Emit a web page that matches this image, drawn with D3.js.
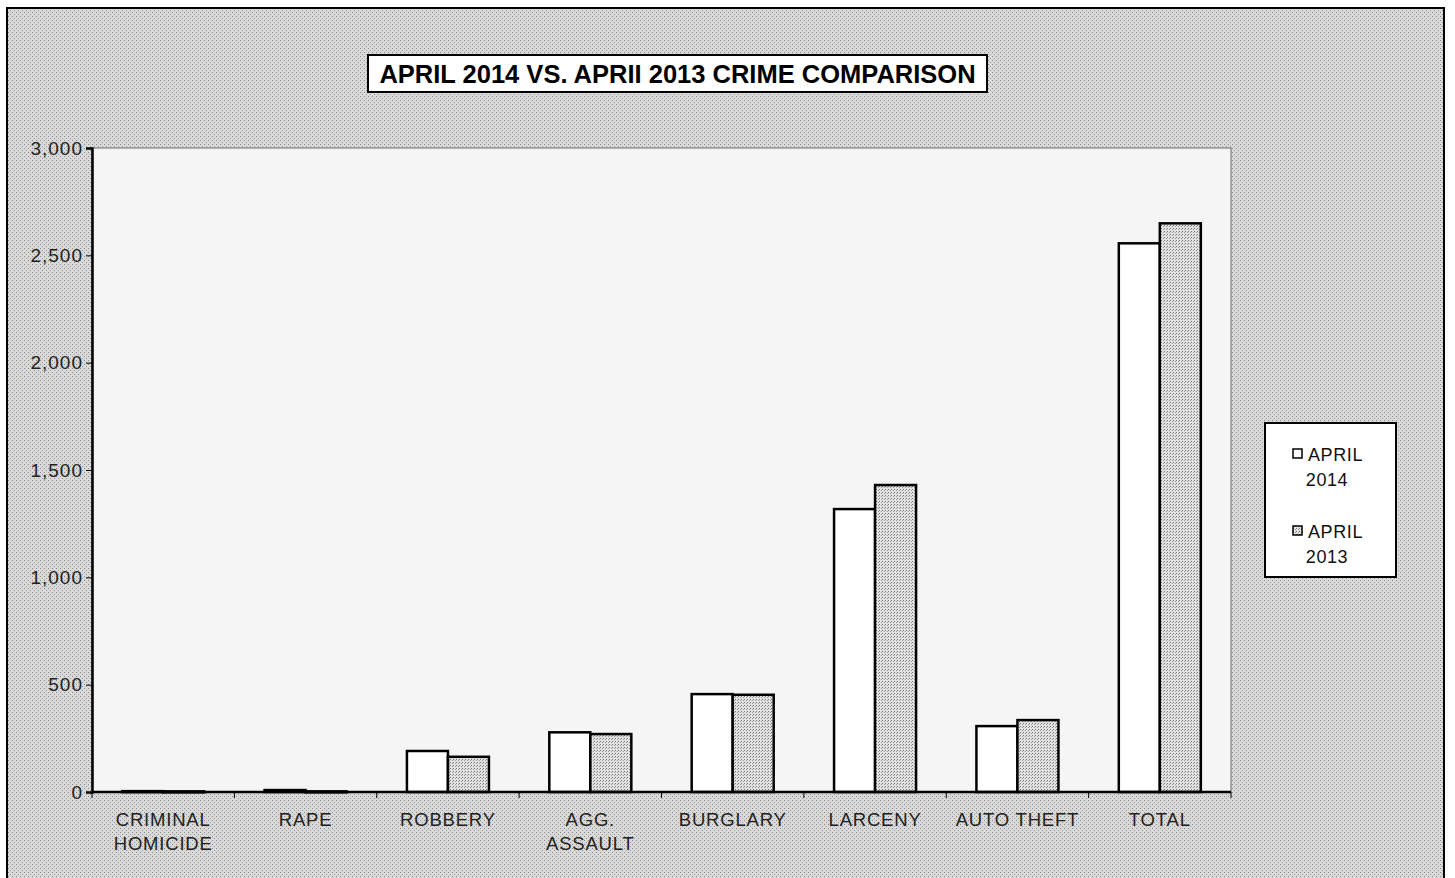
<!DOCTYPE html>
<html>
<head>
<meta charset="utf-8">
<script src="https://cdn.jsdelivr.net/npm/d3@7"></script>
<style>
  html, body { margin: 0; padding: 0; background: #ffffff; }
  svg { display: block; }
  text { font-family: Arial, "Liberation Sans", sans-serif; }
</style>
</head>
<body>
<svg id="chart" width="1455" height="878"></svg>
<script>
const categories = [["CRIMINAL", "HOMICIDE"], ["RAPE"], ["ROBBERY"], ["AGG.", "ASSAULT"], ["BURGLARY"], ["LARCENY"], ["AUTO THEFT"], ["TOTAL"]];
const seriesNames = [["APRIL", "2014"], ["APRIL", "2013"]];
const april2014 = [4, 9, 191, 278, 456, 1318, 307, 2556];
const april2013 = [3, 3, 164, 270, 453, 1430, 335, 2649];
const yTicks = [0, 500, 1000, 1500, 2000, 2500, 3000];
const titleText = "APRIL 2014 VS. APRII 2013 CRIME COMPARISON";

const svg = d3.select("#chart");

// textured patterns
const defs = svg.append("defs");
const bgPat = defs.append("pattern").attr("id", "bgpat").attr("width", 4).attr("height", 4).attr("patternUnits", "userSpaceOnUse");
bgPat.append("rect").attr("width", 4).attr("height", 4).attr("fill", "#d9d9d9");
bgPat.append("rect").attr("x", 0).attr("y", 0).attr("width", 1).attr("height", 1).attr("fill", "#8a8a8a");
bgPat.append("rect").attr("x", 2).attr("y", 2).attr("width", 1).attr("height", 1).attr("fill", "#9a9a9a");
const barPat = defs.append("pattern").attr("id", "barpat").attr("width", 3).attr("height", 3).attr("patternUnits", "userSpaceOnUse");
barPat.append("rect").attr("width", 3).attr("height", 3).attr("fill", "#e2e2e2");
barPat.append("rect").attr("x", 0).attr("y", 0).attr("width", 1).attr("height", 1).attr("fill", "#777");
barPat.append("rect").attr("x", 2).attr("y", 1).attr("width", 1).attr("height", 1).attr("fill", "#999");

// outer chart area
svg.append("rect").attr("x", 7).attr("y", 8).attr("width", 1437).attr("height", 880)
  .attr("fill", "url(#bgpat)").attr("stroke", "#000").attr("stroke-width", 2);

const plot = { left: 92, top: 148, right: 1231, bottom: 792 };

// plot area
svg.append("rect").attr("x", plot.left).attr("y", plot.top)
  .attr("width", plot.right - plot.left).attr("height", plot.bottom - plot.top)
  .attr("fill", "#f5f5f5").attr("stroke", "#666").attr("stroke-width", 1);

const x = d3.scaleBand().domain(d3.range(categories.length)).range([plot.left, plot.right]).paddingInner(0.424).paddingOuter(0.212);
const xs = d3.scaleBand().domain([0, 1]).range([0, x.bandwidth()]);
const y = d3.scaleLinear().domain([0, 3000]).range([plot.bottom, plot.top]);

// bars
const series = [april2014, april2013];
const fills = ["#ffffff", "url(#barpat)"];
series.forEach((vals, si) => {
  svg.append("g").selectAll("rect").data(vals).join("rect")
    .attr("x", (d, i) => x(i) + xs(si))
    .attr("y", d => y(d))
    .attr("width", xs.bandwidth())
    .attr("height", d => Math.max(1, y(0) - y(d)))
    .attr("fill", fills[si])
    .attr("stroke", "#000")
    .attr("stroke-width", 2.5);
});

// y axis
const yAxis = d3.axisLeft(y).tickValues(yTicks).tickFormat(d3.format(",")).tickSize(6).tickPadding(3);
const gy = svg.append("g").attr("transform", `translate(${plot.left},0)`).call(yAxis);
gy.select(".domain").attr("stroke", "#000").attr("stroke-width", 2.5);
gy.selectAll(".tick line").attr("stroke", "#000");
gy.selectAll(".tick text").attr("font-size", 19).attr("letter-spacing", 1).attr("fill", "#222");

// x axis
const xEdges = d3.range(categories.length + 1).map(i => plot.left + i * (plot.right - plot.left) / categories.length);
svg.append("line").attr("x1", plot.left).attr("x2", plot.right).attr("y1", plot.bottom).attr("y2", plot.bottom)
  .attr("stroke", "#000").attr("stroke-width", 2.5);
svg.append("g").selectAll("line").data(xEdges).join("line")
  .attr("x1", d => d).attr("x2", d => d).attr("y1", plot.bottom).attr("y2", plot.bottom + 6)
  .attr("stroke", "#000").attr("stroke-width", 1);
const gx = svg.append("g");
categories.forEach((lines, i) => {
  const cx = x(i) + x.bandwidth() / 2;
  const t = gx.append("text").attr("x", cx).attr("y", 826)
    .attr("text-anchor", "middle").attr("font-size", 18.5).attr("letter-spacing", 0.8).attr("fill", "#222");
  lines.forEach((ln, li) => t.append("tspan").attr("x", cx).attr("dy", li === 0 ? 0 : 24).text(ln));
});

// title
const tg = svg.append("g");
tg.append("rect").attr("x", 368).attr("y", 55).attr("width", 619).attr("height", 37)
  .attr("fill", "#fff").attr("stroke", "#000").attr("stroke-width", 2);
tg.append("text").attr("x", 677.5).attr("y", 83).attr("text-anchor", "middle")
  .attr("font-size", 25.5).attr("font-weight", "bold").attr("fill", "#000").text(titleText);

// legend
const lg = svg.append("g");
lg.append("rect").attr("x", 1265).attr("y", 423).attr("width", 131).attr("height", 154)
  .attr("fill", "#fff").attr("stroke", "#000").attr("stroke-width", 2);
seriesNames.forEach((nm, si) => {
  const y0 = 461 + si * 77;
  lg.append("rect").attr("x", 1293).attr("y", y0 - 12).attr("width", 9).attr("height", 9)
    .attr("fill", fills[si]).attr("stroke", "#000").attr("stroke-width", 1.5);
  lg.append("text").attr("x", 1308).attr("y", y0).attr("font-size", 18).attr("letter-spacing", 0.6).attr("fill", "#111").text(nm[0]);
  lg.append("text").attr("x", 1327).attr("y", y0 + 25).attr("text-anchor", "middle").attr("font-size", 18).attr("letter-spacing", 0.6).attr("fill", "#111").text(nm[1]);
});
</script>
</body>
</html>
